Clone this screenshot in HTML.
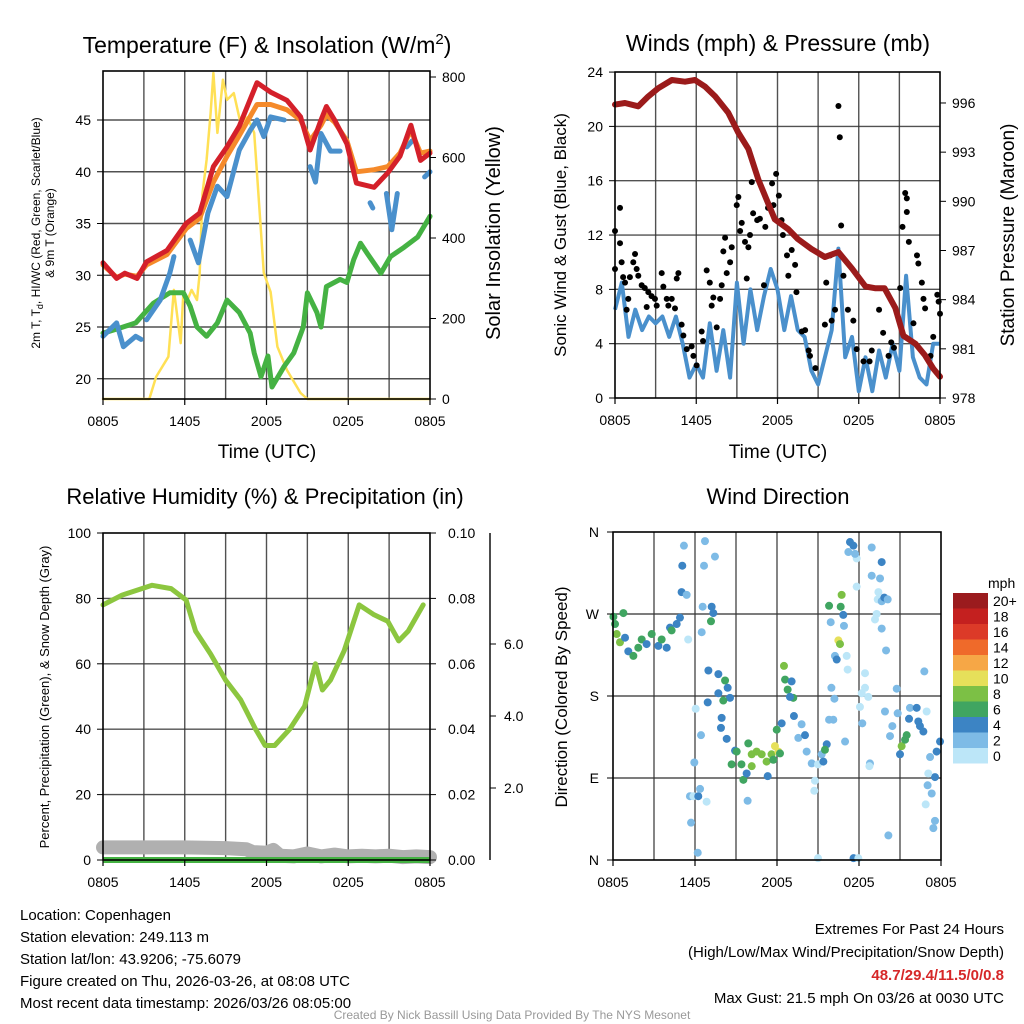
<!DOCTYPE html>
<html><head><meta charset="utf-8">
<style>
html,body{margin:0;padding:0;background:#fff;}
svg{display:block;font-family:"Liberation Sans",sans-serif;}
</style></head>
<body>
<svg id="fig" width="1024" height="1024" viewBox="0 0 1024 1024" xmlns="http://www.w3.org/2000/svg">
<rect width="1024" height="1024" fill="#fff"/>
<g id="p1"></g>
<g id="p2"></g>
<g id="p3"></g>
<g id="p4"></g>
<g id="txt" font-size="15" fill="#000">
<text x="20" y="920">Location: Copenhagen</text>
<text x="20" y="942">Station elevation: 249.113 m</text>
<text x="20" y="964">Station lat/lon: 43.9206; -75.6079</text>
<text x="20" y="986">Figure created on Thu, 2026-03-26, at 08:08 UTC</text>
<text x="20" y="1008">Most recent data timestamp: 2026/03/26 08:05:00</text>
<text x="1004" y="934" text-anchor="end">Extremes For Past 24 Hours</text>
<text x="1004" y="957" text-anchor="end">(High/Low/Max Wind/Precipitation/Snow Depth)</text>
<text x="1004" y="980" text-anchor="end" fill="#d62728" font-weight="bold">48.7/29.4/11.5/0/0.8</text>
<text x="1004" y="1003" text-anchor="end">Max Gust: 21.5 mph On 03/26 at 0030 UTC</text>
<text x="512" y="1019" text-anchor="middle" font-size="12" fill="#999">Created By Nick Bassill Using Data Provided By The NYS Mesonet</text>
</g>
</svg>
<script>
// ---------- DATA ----------
const timeLabels = ["0805","1405","2005","0205","0805"];
const timeTicks = [0,6,12,18,24];
// Panel 1: temperature (hours since 0805)
const tempT = [0,1,1.6,2.5,3.2,4.7,6.1,7.1,8.1,9.1,10,11.3,12.3,13.5,14.5,15.2,16,16.4,17,17.9,18.6,19.9,20.9,21.8,22.6,23.3,24];
const tempV = [31.2,29.7,30.2,29.7,31.3,32.4,35.0,36.0,40.5,42.4,44.4,48.6,47.7,46.9,45.3,42.1,45,46.3,45,42.7,38.9,38.5,39.9,41.5,44.5,41.1,41.8];
const t9mV  = [31.0,29.8,30.1,29.9,31.0,32.0,34.5,35.5,39.0,41.5,43.5,46.5,46.5,46.0,45.0,43.0,44.5,45.5,44.8,43.0,40.0,40.2,40.5,41.8,44.0,41.8,42.0];
const chillT = [0,1,1.5,2.4,2.8,null,3.2,4.2,4.9,5.2,null,6.4,7,7.7,8.4,9.1,10,10.8,11.3,11.8,12.3,13.3,null,15.2,15.6,16,16.7,17.4,null,19.6,19.8,null,20.8,21.2,21.6,null,22.3,22.7,null,23.6,24];
const chillV = [24.1,25.4,23.1,24.1,23.8,null,25.7,27.6,30.2,31.8,null,33.4,31.2,36,38.6,37.6,42.1,44.0,45,43.4,45.3,45,null,40.5,39.0,43.7,42,42,null,37,36.5,null,37.9,34.4,37.9,null,42.4,43,null,39.5,40];
const dewT = [0,1,2.4,3.7,4.9,5.9,6.4,6.9,7.6,8.4,9.1,10,10.8,11.1,11.6,12.1,12.4,13.3,14,14.7,15,15.7,16,16.4,17.4,17.9,18.4,18.9,19.4,20.4,21.1,22.1,23.1,24];
const dewV = [24.4,24.8,25.4,27.3,28.3,28.3,27,25.0,24.1,25.4,27.6,26.4,24.4,22.5,20.2,22.2,19.2,21.2,22.5,25,28.3,26.4,25,28.9,29.6,29.3,31.5,33.1,32.1,30.2,31.8,32.7,33.7,35.7];
const solarT = [0,3.4,3.9,4.8,5.2,5.7,5.9,6.2,6.5,6.9,7.1,7.3,7.6,7.9,8.1,8.4,8.8,9.1,9.6,10.1,10.6,11.1,11.3,11.8,12.3,12.8,13.5,14.5,15,24];
const solarV = [0,0,55,105,271,139,266,246,271,246,313,511,594,710,810,661,793,743,760,685,700,661,561,313,266,130,72,15,0,0];
// Panel 2: winds & pressure
const windT = Array.from({length:49},(_,i)=>i*0.5);
const windV = [6.5,8.5,4.5,6.5,5,6,5.5,6,4.5,6,4,1.5,2.5,1.5,5.5,2,5,1.5,8.5,4,8,5,7.5,9.5,8,5,7.5,5,4.5,2,1,3,5,11,3,4.5,0.5,3,0.5,3.5,1.5,4,2,9,3,1.5,1,4,4];
const gustT = [0,0,0.37,0.37,0.49,0.6,0.74,0.98,0.86,1.1,1.35,1.48,1.6,1.72,1.97,2.2,2.34,2.46,2.7,2.95,3.08,3.45,3.57,3.82,3.94,4.19,4.43,4.56,4.68,4.92,5.05,5.3,5.66,5.79,6.03,6.4,6.5,6.77,7.0,7.14,7.26,7.51,7.76,7.88,8.0,8.13,8.25,8.5,8.62,8.99,9.11,9.24,9.36,9.6,9.73,9.85,9.97,10.1,10.2,10.5,10.7,11.0,11.1,11.3,11.6,11.7,11.9,12.1,12.3,12.4,12.7,12.8,13.05,13.3,13.4,13.8,14.04,14.3,14.4,14.8,15.5,15.6,15.9,16,16.25,16.5,16.6,16.7,16.87,17.2,17.6,17.85,18.35,18.8,18.96,19.5,19.8,20.2,20.4,20.6,21.06,21.23,21.43,21.55,21.55,21.7,22.04,22.3,22.4,22.66,22.78,22.9,23.3,23.5,23.8,23.9,24];
const gustV = [12.3,9.5,14.0,11.4,10.0,8.9,8.5,7.3,6.5,8.9,10,10.6,9.5,9,8.3,8.1,6.7,7.8,7.5,7.3,6.8,9.2,8.2,7.3,6.8,7.3,6.6,8.8,9.2,5.4,4.6,3.6,3.8,3.1,2.4,4.9,4.2,9.4,8.5,6.8,7.4,5.2,7.3,8.3,10.8,11.8,9.2,10,11.1,14.2,14.8,12.3,12.9,11.5,8.8,11.1,12,15.9,13.6,13.1,13.2,8.3,12.6,14,15.8,14.2,16.5,14.9,13.1,12,10.5,9.0,10.9,9.8,7.8,4.9,5,3.5,3.1,2.2,5.4,8.5,10.5,5.7,6.5,21.5,19.2,12.7,9,6.5,5.7,3.6,2.7,2.7,3.5,6.5,4.8,3.1,4.1,3.7,8.1,12.6,15.1,14.7,13.7,11.5,5.5,10.5,9.9,8.5,7.3,6.6,3.1,4.5,7.6,7.1,6.2];
const presT = [0,0.74,1.72,2.46,3.2,4.2,5.17,5.9,6.65,7.4,8.37,9.1,9.85,10.6,11.3,11.8,12.8,13.5,14.5,15.5,16.5,17.5,18.5,19.2,19.9,20.7,21.3,22.2,22.9,23.5,24];
const presV = [995.9,996,995.8,996.4,996.9,997.4,997.3,997.4,997,996.4,995.4,994.2,993.2,991.3,989.9,988.9,988.3,987.7,987.1,986.6,986.9,985.9,984.8,984.7,984.7,983.5,981.8,981.3,980.6,979.8,979.3];
// Panel 3: RH, precip, snow
const rhT = [0,1.4,3.6,5.0,6.1,6.8,7.9,9.0,10.1,11.2,11.9,12.6,13.7,14.8,15.6,16.1,16.7,17.7,18.8,19.9,20.9,21.7,22.4,23.5];
const rhV = [78,81,84,83,79.5,70,63,55,49,40,35,35,40,47,60,52,55,64,78,75,73,67,70,78];
const precipV = [0,0,0,0,0];
const snowT = [0,3,6,9,10.5,11,12,12.5,13,14,15,16,17,18,19,20,21,22,23,24];
const snowV = [0.35,0.35,0.35,0.33,0.3,0.22,0.2,0.28,0.12,0.1,0.18,0.1,0.15,0.1,0.12,0.1,0.12,0.08,0.1,0.08];
// Panel 4: wind direction scatter
const dirT = [0.03,0.15,0.76,0.27,0.51,0.88,1.12,1.49,1.85,2.1,2.46,2.83,3.32,3.56,3.93,4.17,4.29,4.66,4.9,5.02,5.39,5.07,5.19,5.5,6.73,6.66,7.46,6.56,7.22,7.34,7.17,6.49,6.98,7.71,8.2,8.39,7.71,8.56,8.07,6.93,6.05,7.95,7.9,8.32,8.93,9.05,9.9,9.4,8.68,9.54,9.78,10.15,10.51,10.88,11.24,11.6,11.85,12.1,12.22,11.73,11.32,10.15,11.98,12.34,12.51,12.59,12.78,13.07,13.19,12.95,13.24,13.8,13.56,14.05,14.17,14.54,15.0,15.27,15.39,15.64,15.51,14.78,14.73,15.81,16.12,16.2,15.98,16.98,15.0,17.6,17.95,17.34,17.59,17.22,17.83,17.71,18.93,19.66,18.93,19.54,17.83,16.73,15.81,16.66,16.85,15.93,16.9,16.49,16.61,16.24,16.37,17.1,17.17,18.44,18.44,18.68,18.2,18.07,18.24,18.8,18.76,20.15,19.42,19.37,19.17,19.66,19.85,20.1,19.29,19.66,19.98,20.76,19.9,20.83,20.44,20.27,21.0,21.12,21.37,21.49,21.73,22.22,21.66,22.34,22.46,22.71,22.95,22.78,23.68,23.93,23.2,23.56,23.07,23.02,23.32,22.88,23.56,23.44,5.71,6.2,5.63,5.88,6.24,6.85,6.37,5.95,6.44,9.85];
const dirV = [267,259,271,248,239,244,229,224,233,242,237,248,235,242,233,255,252,259,266,294,291,323,345,242,350,323,333,278,278,271,262,250,208,204,197,189,183,178,175,173,166,156,145,133,120,119,128,105,105,88,95,116,119,116,108,116,125,119,117,110,92,103,143,150,213,198,187,196,178,179,158,149,134,137,119,106,105,116,108,127,121,87,76,154,154,177,189,130,2,2,2,349,345,338,331,336,343,327,312,309,300,291,279,278,269,261,257,241,237,224,220,224,209,205,189,179,183,168,150,106,103,27,294,286,264,284,288,286,270,254,230,188,163,161,147,136,116,125,132,137,167,167,155,152,147,141,163,207,119,130,113,91,95,82,73,61,43,35,41,8,70,70,70,64,78,107,137,65];
const dirSpd = [6.5,6.5,6.5,8.5,8.5,4.5,4.5,6.5,6.5,6.5,4.5,6.5,4.5,6.5,4.5,4.5,6.5,4.5,4.5,4.5,2.5,4.5,2.5,0.5,2.5,2.5,2.5,2.5,4.5,4.5,6.5,2.5,4.5,4.5,6.5,4.5,4.5,4.5,6.5,4.5,0.5,4.5,4.5,4.5,4.5,6.5,6.5,6.5,6.5,6.5,4.5,8.5,8.5,8.5,8.5,8.5,10.5,10.5,6.5,6.5,4.5,8.5,6.5,4.5,8.5,6.5,6.5,4.5,6.5,4.5,4.5,2.5,2.5,4.5,2.5,2.5,1.5,2.5,4.5,4.5,6.5,0.5,0.5,2.5,2.5,2.5,2.5,2.5,0.5,4.5,0.5,4.5,4.5,2.5,0.5,2.5,2.5,4.5,2.5,2.5,0.5,8.5,6.5,6.5,4.5,2.5,2.5,10.5,8.5,2.5,4.5,0.5,0.5,0.5,0.5,0.5,1.5,0.5,2.5,2.5,0.5,2.5,0.5,0.5,0.5,2.5,4.5,2.5,0.5,2.5,2.5,2.5,2.5,2.5,2.5,2.5,4.5,8.5,6.5,6.5,2.5,4.5,4.5,4.5,4.5,4.5,0.5,2.5,4.5,4.5,2.5,4.5,0.5,2.5,2.5,0.5,2.5,2.5,2.5,2.5,2.5,0.5,4.5,0.5,2.5,2.5,2.5,2.5,2.5,2.5,2.5];
const cbLabels = ["20+","18","16","14","12","10","8","6","4","2","0"];
const cbColors = ["#9b1b1e","#c4201f","#dc3a28","#ef6a2a","#f6a746","#e6e05a","#7cc045","#40a561","#3c84c4","#7ebbe6","#bce6f8"];

// ---------- HELPERS ----------
const NS="http://www.w3.org/2000/svg";
function mk(parent,tag,attrs){const e=document.createElementNS(NS,tag);for(const k in attrs)e.setAttribute(k,attrs[k]);parent.appendChild(e);return e;}
function txt(parent,x,y,s,attrs){const e=mk(parent,"text",Object.assign({x:x,y:y},attrs||{}));e.textContent=s;return e;}
function pathFrom(ts,vs,X,Y){let d="",pen=false;for(let i=0;i<ts.length;i++){if(ts[i]===null||vs[i]===null){pen=false;continue;}d+=(pen?"L":"M")+X(ts[i]).toFixed(1)+","+Y(vs[i]).toFixed(1);pen=true;}return d;}
function speedColor(s){if(typeof s!=="number"||isNaN(s))s=2.5;const idx=Math.max(0,Math.min(10,Math.floor(s/2)));return cbColors[10-idx];}
function frame(g,x0,y0,x1,y1,hy){
  for(let k=1;k<8;k++){const x=x0+(x1-x0)*k/8;const l=mk(g,"line",{x1:x,y1:y0,x2:x,y2:y1,stroke:"#333","stroke-width":1.4,"stroke-opacity":0.85});
    
    }
  hy.forEach(y=>{const l=mk(g,"line",{x1:x0,y1:y,x2:x1,y2:y,stroke:"#333","stroke-width":1.4,"stroke-opacity":0.85});
    
    });
}
function border(g,x0,y0,x1,y1){const r=mk(g,"rect",{x:x0,y:y0,width:x1-x0,height:y1-y0,fill:"none",stroke:"#000","stroke-width":1.6});
  
  }
function xAxis(g,X,yb){timeTicks.forEach((t,i)=>{const x=X(t);mk(g,"line",{x1:x,y1:yb,x2:x,y2:yb+6,stroke:"#000","stroke-width":1.2});
  const tl=txt(g,x,yb+27,timeLabels[i],{"text-anchor":"middle","font-size":14});
  
  });}

// ---------- PANEL 1 ----------
(function(){
const g=document.getElementById("p1");
const x0=103,x1=430,y0=71,y1=399;
const X=t=>x0+t*(x1-x0)/24, Y=v=>120+(45-v)*10.35, S=w=>399-w*0.4025;
const tT=[20,25,30,35,40,45];
frame(g,x0,y0,x1,y1,tT.map(Y));
const series=[[solarT,solarV,S,"#ffe055",2.5,"solar-line"],[dewT,dewV,Y,"#45b243",5,"dewpoint-line"],[chillT,chillV,Y,"#4a90cc",5,"windchill-line"],[tempT,t9mV,Y,"#f58a2a",5,"temp-9m-line"],[tempT,tempV,Y,"#d4202a",5,"temp-2m-line"]];
series.forEach(s=>{const p=mk(g,"path",{d:pathFrom(s[0],s[1],X,s[2]),fill:"none",stroke:s[3],"stroke-width":s[4],"stroke-linejoin":"round","stroke-linecap":"round"});
  
  });
border(g,x0,y0,x1,y1);
tT.forEach(v=>{mk(g,"line",{x1:x0-6,y1:Y(v),x2:x0,y2:Y(v),stroke:"#000"});const l=txt(g,x0-12,Y(v)+5,String(v),{"text-anchor":"end","font-size":14});
  
  });
[0,200,400,600,800].forEach(v=>{mk(g,"line",{x1:x1,y1:S(v),x2:x1+6,y2:S(v),stroke:"#000"});const l=txt(g,x1+12,S(v)+5,String(v),{"font-size":14});
  
  });
xAxis(g,X,y1);
const t=txt(g,267,53,"Temperature (F) & Insolation (W/m",{"text-anchor":"middle","font-size":23});
const sup=mk(t,"tspan",{dy:-9,"font-size":15});sup.textContent="2";const cl=mk(t,"tspan",{dy:9});cl.textContent=")";


const xl=txt(g,267,458,"Time (UTC)",{"text-anchor":"middle","font-size":19});


const yl=mk(g,"text",{transform:"translate(40,233) rotate(-90)","text-anchor":"middle","font-size":12});
yl.innerHTML='2m T, T<tspan dy="3" font-size="9">d</tspan><tspan dy="-3">, HI/WC (Red, Green, Scarlet/Blue)</tspan>';


const yl2=txt(g,0,0,"& 9m T (Orange)",{transform:"translate(54,233) rotate(-90)","text-anchor":"middle","font-size":12});


const yr=txt(g,0,0,"Solar Insolation (Yellow)",{transform:"translate(500,233) rotate(-90)","text-anchor":"middle","font-size":20});


})();

// ---------- PANEL 2 ----------
(function(){
const g=document.getElementById("p2");
const x0=615,x1=940,y0=72,y1=398;
const X=t=>x0+t*(x1-x0)/24, Y=v=>398-v*13.58, P=p=>398-(p-978)*16.39;
const wT=[0,4,8,12,16,20,24];
frame(g,x0,y0,x1,y1,[4,8,12,16,20].map(Y));
const w=mk(g,"path",{d:pathFrom(windT,windV,X,Y),fill:"none",stroke:"#4a90cc","stroke-width":4,"stroke-linejoin":"round"});


gustT.forEach((t,i)=>{const c=mk(g,"circle",{cx:X(t),cy:Y(gustV[i]),r:3,fill:"#000"});
  
  });
const p=mk(g,"path",{d:pathFrom(presT,presV,X,P),fill:"none",stroke:"#9b1b1b","stroke-width":6,"stroke-linejoin":"round","stroke-linecap":"round"});


border(g,x0,y0,x1,y1);
wT.forEach(v=>{mk(g,"line",{x1:x0-6,y1:Y(v),x2:x0,y2:Y(v),stroke:"#000"});const l=txt(g,x0-12,Y(v)+5,String(v),{"text-anchor":"end","font-size":14});
  
  });
[978,981,984,987,990,993,996].forEach(v=>{mk(g,"line",{x1:x1,y1:P(v),x2:x1+6,y2:P(v),stroke:"#000"});const l=txt(g,x1+12,P(v)+5,String(v),{"font-size":14});
  
  });
xAxis(g,X,y1);
const t=txt(g,778,51,"Winds (mph) & Pressure (mb)",{"text-anchor":"middle","font-size":23});


const xl=txt(g,778,458,"Time (UTC)",{"text-anchor":"middle","font-size":19});


const yl=txt(g,0,0,"Sonic Wind & Gust (Blue, Black)",{transform:"translate(566,235) rotate(-90)","text-anchor":"middle","font-size":17});


const yr=txt(g,0,0,"Station Pressure (Maroon)",{transform:"translate(1014,235) rotate(-90)","text-anchor":"middle","font-size":19});


})();

// ---------- PANEL 3 ----------
(function(){
const g=document.getElementById("p3");
const x0=103,x1=430,y0=533,y1=860;
const X=t=>x0+t*(x1-x0)/24, Y=v=>860-v*3.27, Pr=v=>860-v*3270, Sn=v=>860-v*36;
frame(g,x0,y0,x1,y1,[20,40,60,80].map(Y));
const s=mk(g,"path",{d:pathFrom(snowT,snowV,X,Sn),fill:"none",stroke:"#b0b0b0","stroke-width":14,"stroke-linejoin":"round","stroke-linecap":"round"});


const pr=mk(g,"path",{d:pathFrom(timeTicks,precipV,X,Pr),fill:"none",stroke:"#45b243","stroke-width":6});


const rh=mk(g,"path",{d:pathFrom(rhT,rhV,X,Y),fill:"none",stroke:"#8cc63f","stroke-width":5,"stroke-linejoin":"round","stroke-linecap":"round"});


border(g,x0,y0,x1,y1);
[0,20,40,60,80,100].forEach(v=>{mk(g,"line",{x1:x0-6,y1:Y(v),x2:x0,y2:Y(v),stroke:"#000"});const l=txt(g,x0-12,Y(v)+5,String(v),{"text-anchor":"end","font-size":14});
  
  });
[0,0.02,0.04,0.06,0.08,0.10].forEach(v=>{mk(g,"line",{x1:x1,y1:Pr(v),x2:x1+6,y2:Pr(v),stroke:"#000"});const l=txt(g,x1+18,Pr(v)+5,v.toFixed(2),{"font-size":14});
  
  });
mk(g,"line",{x1:490,y1:y0,x2:490,y2:y1,stroke:"#000","stroke-width":1.4});
[2,4,6].forEach(v=>{mk(g,"line",{x1:490,y1:Sn(v),x2:496,y2:Sn(v),stroke:"#000"});const l=txt(g,504,Sn(v)+5,v.toFixed(1),{"font-size":14});
  
  });
xAxis(g,X,y1);
const t=txt(g,265,504,"Relative Humidity (%) & Precipitation (in)",{"text-anchor":"middle","font-size":22});


const yl=txt(g,0,0,"Percent, Precipitation (Green), & Snow Depth (Gray)",{transform:"translate(49,697) rotate(-90)","text-anchor":"middle","font-size":13});


})();

// ---------- PANEL 4 ----------
(function(){
const g=document.getElementById("p4");
const x0=613,x1=941,y0=532,y1=860;
const X=t=>x0+t*(x1-x0)/24, D=d=>860-d/360*328;
frame(g,x0,y0,x1,y1,[90,180,270].map(D));
dirT.forEach((t,i)=>{const c=mk(g,"circle",{cx:X(t),cy:D(dirV[i]),r:4,fill:speedColor(dirSpd[i])});
  
  });
border(g,x0,y0,x1,y1);
["N","E","S","W","N"].forEach((s,i)=>{const y=D(i*90);mk(g,"line",{x1:x0-6,y1:y,x2:x0,y2:y,stroke:"#000"});const l=txt(g,x0-14,y+5,s,{"text-anchor":"end","font-size":14});
  
  });
xAxis(g,X,y1);
const t=txt(g,778,504,"Wind Direction",{"text-anchor":"middle","font-size":22});


const yl=txt(g,0,0,"Direction (Colored By Speed)",{transform:"translate(567,697) rotate(-90)","text-anchor":"middle","font-size":17});


const cb=mk(g,"g",{});


const ut=txt(cb,988,588,"mph",{"font-size":14});


cbColors.forEach((c,i)=>{const r=mk(cb,"rect",{x:953,y:593+i*15.5,width:35,height:15.5,fill:c});
  
  
  const l=txt(cb,993,593+i*15.5+13,cbLabels[i],{"font-size":14});
  
  });
})();
</script>
</body></html>
